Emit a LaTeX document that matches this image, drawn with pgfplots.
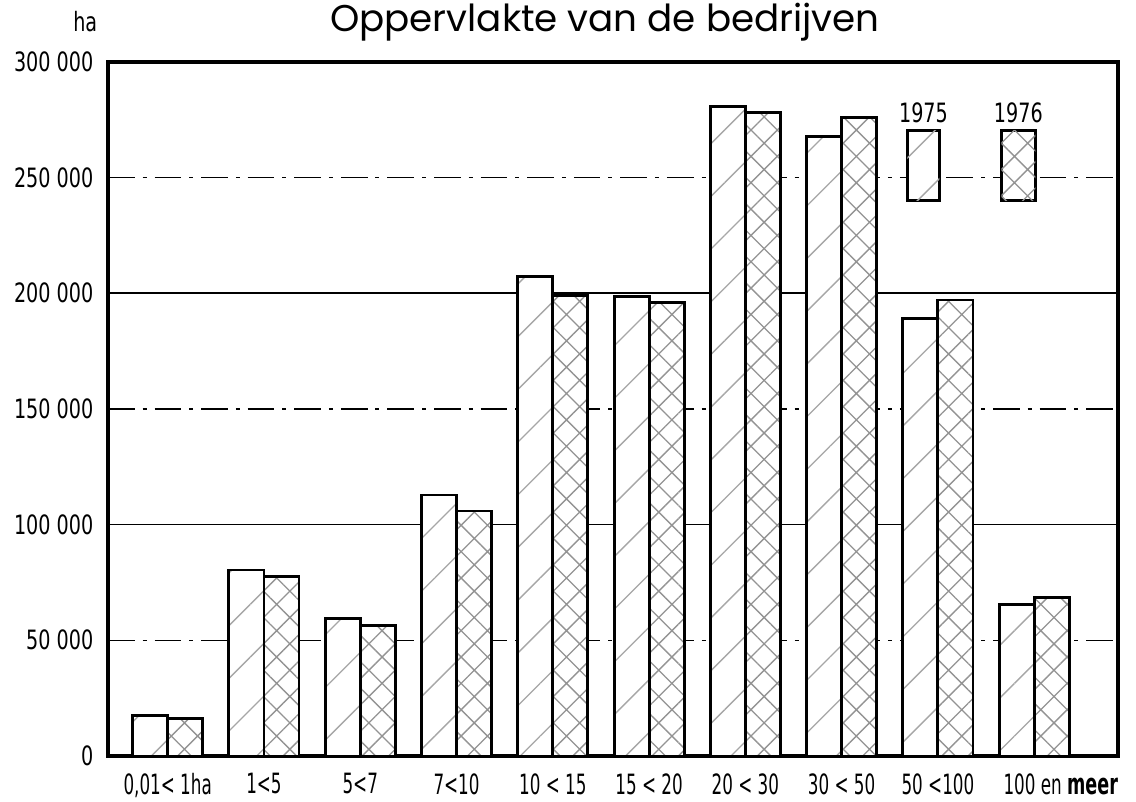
\documentclass[border=0pt]{standalone}
\usepackage{fontspec}
\setmainfont{DejaVu Sans}
\newfontfamily\condfont[FakeStretch=0.72]{DejaVu Sans}
\newfontfamily\xcondfont[FakeStretch=0.6]{DejaVu Sans}
\newfontfamily\titlefont{Poppins}
\usepackage{pgfplots}
\pgfplotsset{compat=1.18}
\usetikzlibrary{patterns.meta}

\begin{document}
\begin{tikzpicture}[x=1cm,y=1cm]
\useasboundingbox (-1.426,-0.607) rectangle (13.574,9.982);
\begin{axis}[
  at={(0,0)}, anchor=south west, scale only axis,
  width=13.336cm, height=9.164cm,
  xmin=-0.62, xmax=9.87, ymin=0, ymax=300000,
  scaled y ticks=false,
  xtick={0,...,9},
  xticklabels={{0,01< 1ha},{1<5},{5<7},{7<10},{10 < 15},{15 < 20},{20 < 30},{30 < 50},{50 <100},{\hspace*{0.7cm}100 en \textbf{\fontsize{11}{12}\selectfont meer}}},
  ytick={0,50000,100000,150000,200000,250000,300000},
  yticklabels={0,50 000,100 000,150 000,200 000,250 000,300 000},
  axis line style={line width=1.2pt},
  tick style={draw=none},
  ymajorgrids,
  grid style={black, line width=0.5pt, dash pattern=on 10pt off 3pt on 1.5pt off 3pt},
  extra y ticks={100000,200000}, extra y tick labels={},
  extra y tick style={grid style={black, solid, line width=0.6pt}},
  yticklabel style={font=\condfont\fontsize{10}{12}\selectfont, xshift=-2pt},
  xticklabel style={font=\xcondfont\fontsize{10.5}{12}\selectfont, yshift=-3pt},
  clip=false,
]
\addplot[ybar, bar width=0.364, bar shift=-0.182, fill=white, draw=black, line width=1.1pt,
  postaction={pattern={Lines[angle=45,distance=14pt,line width=0.5pt]}, pattern color=gray!70}]
  coordinates {(0,17300) (1,80400) (2,59600) (3,112800) (4,207400) (5,198800) (6,280900) (7,267900) (8,189300) (9,65300)};
\addplot[ybar, bar width=0.364, bar shift=0.182, fill=white, draw=black, line width=1.1pt,
  postaction={pattern={Hatch[angle=45,distance=7pt,line width=0.5pt]}, pattern color=gray!85}]
  coordinates {(0,16000) (1,77400) (2,56200) (3,105900) (4,199200) (5,196200) (6,278300) (7,276100) (8,197100) (9,68300)};
% legend keys
\draw[fill=white, line width=1.1pt, postaction={pattern={Lines[angle=45,distance=14pt,line width=0.5pt]}, pattern color=gray!70}]
  (axis cs:7.682,240300) rectangle (axis cs:8.015,270500);
\draw[fill=white, line width=1.1pt, postaction={pattern={Hatch[angle=45,distance=7pt,line width=0.5pt]}, pattern color=gray!85}]
  (axis cs:8.659,240300) rectangle (axis cs:9.012,270500);
\node[anchor=south, font=\condfont\fontsize{10}{12}\selectfont, inner sep=2pt] at (axis cs:7.85,271000) {1975};
\node[anchor=south, font=\condfont\fontsize{10}{12}\selectfont, inner sep=2pt] at (axis cs:8.835,271000) {1976};
\node[font=\titlefont\fontsize{14}{16}\selectfont] at ([yshift=0.53cm]rel axis cs:0.492,1) {Oppervlakte van de bedrijven};
\node[font=\condfont\fontsize{10}{12}\selectfont] at ([xshift=-0.30cm, yshift=0.53cm]rel axis cs:0,1) {ha};
\end{axis}
\end{tikzpicture}
\end{document}
